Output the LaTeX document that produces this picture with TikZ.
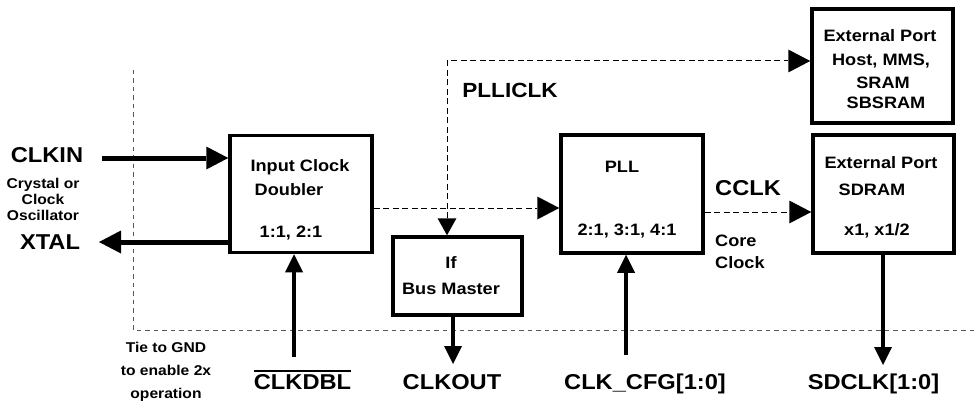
\documentclass[tikz,border=0pt]{standalone}
\usepackage{fontspec}
\setmainfont{Liberation Sans}[FakeStretch=1.1]
\usetikzlibrary{arrows.meta}
\newcommand\myovl[1]{\setbox0\hbox{#1}\rlap{\rule[\dimexpr\ht0+2.5pt\relax]{\wd0}{1.7pt}}\box0}
\begin{document}
\begin{tikzpicture}[x=1pt,y=-1pt,
  box/.style={draw,line width=3.5pt,inner sep=0pt},
  big/.style={inner sep=0pt,text height=15.4pt,text depth=0pt,font=\fontsize{21.5}{24}\selectfont\bfseries},
  mid/.style={inner sep=0pt,text height=11.8pt,text depth=0pt,font=\fontsize{16.5}{19}\selectfont\bfseries},
  sml/.style={inner sep=0pt,text height=10.2pt,text depth=0pt,font=\fontsize{14.2}{16}\selectfont\bfseries},
  harr/.style={line width=5pt,-{Triangle[length=22pt,width=23pt,line width=0pt]}},
  varr/.style={line width=4.6pt,-{Triangle[length=18pt,width=18pt,line width=0pt]}},
  dsh/.style={line width=1pt,dash pattern=on 6pt off 3.5pt},
  dtip/.style={dsh,-{Triangle[length=22pt,width=23pt,line width=0pt]}},
  outer/.style={line width=1pt,dash pattern=on 4.5pt off 4pt,black!65}]
\useasboundingbox (0,0) rectangle (974,401);
% boxes
\node[box,minimum width=142pt,minimum height=117pt] (dbl) at (301,194) {};
\node[box,minimum width=142pt,minimum height=118pt] (pll) at (632,194) {};
\node[box,minimum width=129pt,minimum height=78pt] (bm) at (457.5,276) {};
\node[box,minimum width=141pt,minimum height=114pt] (ep1) at (882.5,66) {};
\node[box,minimum width=141pt,minimum height=118pt] (ep2) at (883.5,194) {};
% outer boundary
\coordinate (ob1) at (133,70);
\coordinate (ob2) at (133,330);
\coordinate (ob3) at (974,330);
\draw[outer] (ob1) -- (ob2) -- (ob3);
% texts in boxes
\node[mid] (t1) at (300,166) {Input Clock};
\node[mid] (t2) at (289,190) {Doubler};
\node[mid] (t3) at (291,232) {1:1, 2:1};
\node[mid] (t4) at (622,167) {PLL};
\node[mid] (t5) at (627,230) {2:1, 3:1, 4:1};
\node[mid] (t6) at (451,263) {If};
\node[mid] (t7) at (451,289) {Bus Master};
\node[mid] (t8) at (880,36) {External Port};
\node[mid] (t9) at (881,60) {Host, MMS,};
\node[mid] (t10) at (883,83) {SRAM};
\node[mid] (t11) at (886,103) {SBSRAM};
\node[mid] (t12) at (881,163) {External Port};
\node[mid] (t13) at (872,190) {SDRAM};
\node[mid] (t14) at (877,230) {x1, x1/2};
% outside labels
\node[big] (clkin) at (47,155) {CLKIN};
\node[sml] (c1) at (43,183) {Crystal or};
\node[sml] (c2) at (43,199) {Clock};
\node[sml] (c3) at (43,215) {Oscillator};
\node[big] (xtal) at (50,242) {XTAL};
\node[sml] (g1) at (166,347) {Tie to GND};
\node[sml] (g2) at (166,370) {to enable 2x};
\node[sml] (g3) at (166,393) {operation};
\node[big] (clkdbl) at (302.5,382) {\myovl{CLKDBL}};
\node[big,font=\fontsize{20.5}{23}\selectfont\bfseries,text height=14.7pt] (plliclk) at (510,90) {PLLICLK};
\node[big,anchor=west] (cclk) at (715,188) {CCLK};
\node[mid,anchor=west] (core1) at (715,241) {Core};
\node[mid,anchor=west] (core2) at (715,263) {Clock};
\node[big] (clkout) at (452,382) {CLKOUT};
\node[big] (clkcfg) at (645,382) {CLK\_CFG[1:0]};
\node[big] (sdclk) at (873.5,382) {SDCLK[1:0]};
% coordinates
\coordinate (inS) at (102,158);
\coordinate (xE) at (99,242);
\coordinate (dblIn) at (294,357);
\coordinate (cfgIn) at (626,355);
\coordinate (outE) at (453,364);
\coordinate (sdE) at (883,365);
\coordinate (pc) at (447,61);
% thick arrows
\draw[harr] (inS) -- (dbl.west |- inS);
\draw[harr] (dbl.west |- xE) -- (xE);
\draw[varr] (dblIn) -- (dblIn |- dbl.south);
\draw[varr] (cfgIn) -- (cfgIn |- pll.south);
\draw[varr] (outE |- bm.south) -- (outE);
\draw[varr] (sdE |- ep2.south) -- (sdE);
% dashed clock lines
\coordinate (d1) at (0,208);
\coordinate (d2) at (0,212);
\draw[dtip] (dbl.east |- d1) -- (pll.west |- d1);
\draw[dtip] (pll.east |- d2) -- (ep2.west |- d2);
\draw[dsh,{Triangle[length=17pt,width=19pt,line width=0pt]}-{Triangle[length=22pt,width=23pt,line width=0pt]}] (pc |- bm.north) -- (pc) -- (ep1.west |- pc);
\end{tikzpicture}
\end{document}
